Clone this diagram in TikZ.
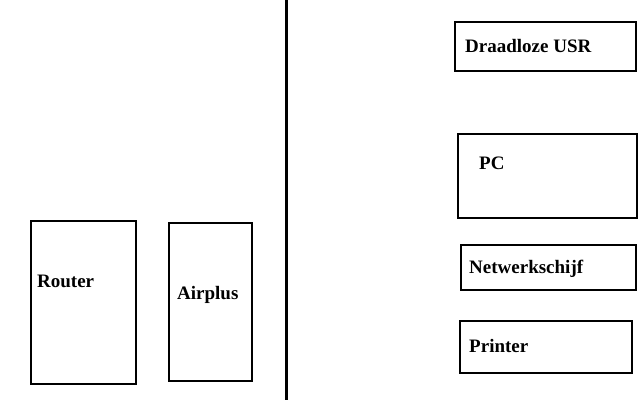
\documentclass[tikz,border=0pt]{standalone}
\usepackage{fontspec}
\setmainfont{Liberation Serif}
\begin{document}
\begin{tikzpicture}[x=1pt,y=-1pt,
  box/.style={draw=black,line width=2pt},
  lbl/.style={anchor=west,inner sep=0pt,font=\fontsize{19}{22}\selectfont\bfseries}]
\useasboundingbox[fill=white] (0,0) rectangle (640,400);
\draw[line width=3.5pt] (286.5,0) -- (286.5,400);
\draw[box] (455,22) rectangle (636,71);
\draw[box] (458,134) rectangle (637,218);
\draw[box] (461,245) rectangle (636,290);
\draw[box] (460,321) rectangle (632,373);
\draw[box] (31,221) rectangle (136,384);
\draw[box] (169,223) rectangle (252,381);
\node[lbl] (usr) at (465,46) {Draadloze USR};
\node[lbl] (pc) at (479,163) {PC};
\node[lbl] (nw) at (469,269) {Netwerkschijf};
\node[lbl] (pr) at (469,346) {Printer};
\node[lbl] (rt) at (37,281) {Router};
\node[lbl] (ap) at (177,295) {Airplus};
\end{tikzpicture}
\end{document}
